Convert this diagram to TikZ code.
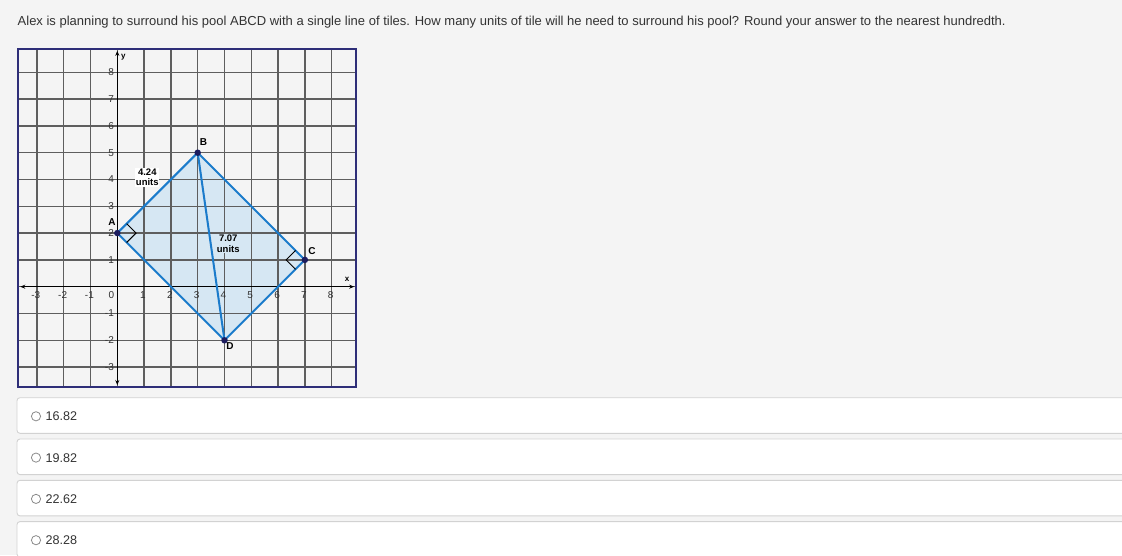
\documentclass[tikz,border=0pt]{standalone}
\usepackage{fontspec}
\setmainfont{Liberation Sans}
\usetikzlibrary{arrows.meta}
\definecolor{pagebg}{HTML}{F4F4F4}
\definecolor{textgray}{HTML}{333333}
\definecolor{boxline}{HTML}{D2D2D2}
\definecolor{radiogray}{HTML}{8A8A8A}
\definecolor{gridgray}{HTML}{5E5E5E}
\definecolor{framenavy}{HTML}{2E2E78}
\definecolor{pooledge}{HTML}{1B7BCB}
\definecolor{poolblue}{HTML}{D6E7F3}
\definecolor{dotnavy}{HTML}{1C1C5E}
\tikzset{
  question/.style={font=\fontsize{13}{15}\selectfont, text=textgray, inner sep=0pt, anchor=base west},
  optbox/.style={draw=boxline, fill=white, rounded corners=3pt, line width=0.9pt},
  radio/.style={draw=radiogray, line width=0.8pt},
  opttext/.style={font=\fontsize{12.6}{15}\selectfont, text=textgray, inner sep=0pt, anchor=base west},
  gridline/.style={draw=gridgray, line width=1.4pt},
  framebox/.style={draw=framenavy, line width=2pt},
  axis/.style={draw=black, line width=1.3pt, {Stealth[length=5pt,width=4pt]}-{Stealth[length=5pt,width=4pt]}},
  ticklabel/.style={font=\fontsize{10}{11}\selectfont, text=textgray, inner sep=0pt},
  axislabel/.style={font=\bfseries\fontsize{8}{9}\selectfont, inner sep=0pt},
  ptlabel/.style={font=\bfseries\fontsize{10}{11}\selectfont, inner sep=0pt},
  poolline/.style={draw=pooledge, line width=2pt, line join=round},
  rightmark/.style={draw=black, line width=1pt},
  ptdot/.style={circle, fill=dotnavy, inner sep=0pt, minimum size=6.5pt},
  measure/.style={font=\bfseries\fontsize{9.5}{10.5}\selectfont, align=center, inner sep=0.8pt},
}
\begin{document}
\begin{tikzpicture}[x=1pt,y=1pt]
  \useasboundingbox[fill=pagebg] (0,0) rectangle (1122,555);
  \node[question] (ques) at (17.5,529) {Alex is planning to surround his pool ABCD with a single line of tiles. How many units of tile will he need to surround his pool? Round your answer to the nearest hundredth.};

  \foreach \val [count=\k] in {16.82,19.82,22.62,28.28}{
    \pgfmathsetmacro{\ybox}{157.3-41.3*(\k-1)}
    \draw[optbox] (17,\ybox) rectangle (1140,\ybox-35.6);
    \draw[radio] (36,\ybox-18.6) circle (4.6);
    \node[opttext] (ans\k) at (45.5,\ybox-23) {\val};
  }

  \begin{scope}[shift={(117.3pt,268.3pt)}, x=26.8pt, y=26.8pt]
    \coordinate (A) at (0,2);
    \coordinate (B) at (3,5);
    \coordinate (C) at (7,1);
    \coordinate (D) at (4,-2);
    \fill[poolblue] (A) -- (B) -- (C) -- (D) -- cycle;
    \foreach \i in {-3,...,8}{
      \draw[gridline] (\i,-3.73) -- (\i,8.86);
      \draw[gridline] (-3.69,\i) -- (8.9,\i);
    }
    \draw[framebox] (-3.69,-3.73) rectangle (8.9,8.86);
    \draw[axis] (-3.62,0) -- (8.84,0);
    \draw[axis] (0,-3.67) -- (0,8.8);
    \node[axislabel] (xlab) at (8.57,0.28) {x};
    \node[axislabel] (ylab) at (0.23,8.58) {y};
    \foreach \i in {-3,-2,-1,1,2,3,4,5,6,7,8}{
      \node[ticklabel] (xt\i) at (\i-0.04,-0.32) {\i};
      \node[ticklabel, anchor=east] (yt\i) at (-0.12,\i) {\i};
    }
    \node[ticklabel] (xt0) at (-0.22,-0.32) {0};

    \draw[poolline] (A) -- (B) -- (C) -- (D) -- cycle;
    \draw[poolline] (B) -- (D);
    \draw[rightmark] (0.35,2.35) -- (0.7,2) -- (0.35,1.65);
    \draw[rightmark] (6.65,1.35) -- (6.3,1) -- (6.65,0.65);

    \node[ptdot] (dotA) at (A) {};
    \node[ptdot] (dotB) at (B) {};
    \node[ptdot] (dotC) at (C) {};
    \node[ptdot] (dotD) at (D) {};
    \node[ptlabel] (labA) at (-0.2,2.42) {A};
    \node[ptlabel] (labB) at (3.22,5.4) {B};
    \node[ptlabel] (labC) at (7.26,1.32) {C};
    \node[ptlabel] (labD) at (4.2,-2.22) {D};

    \node[measure, fill=white] (side) at (1.12,4.08) {4.24\\units};
    \node[measure, fill=poolblue] (diag) at (4.14,1.6) {7.07\\units};
  \end{scope}
\end{tikzpicture}
\end{document}
